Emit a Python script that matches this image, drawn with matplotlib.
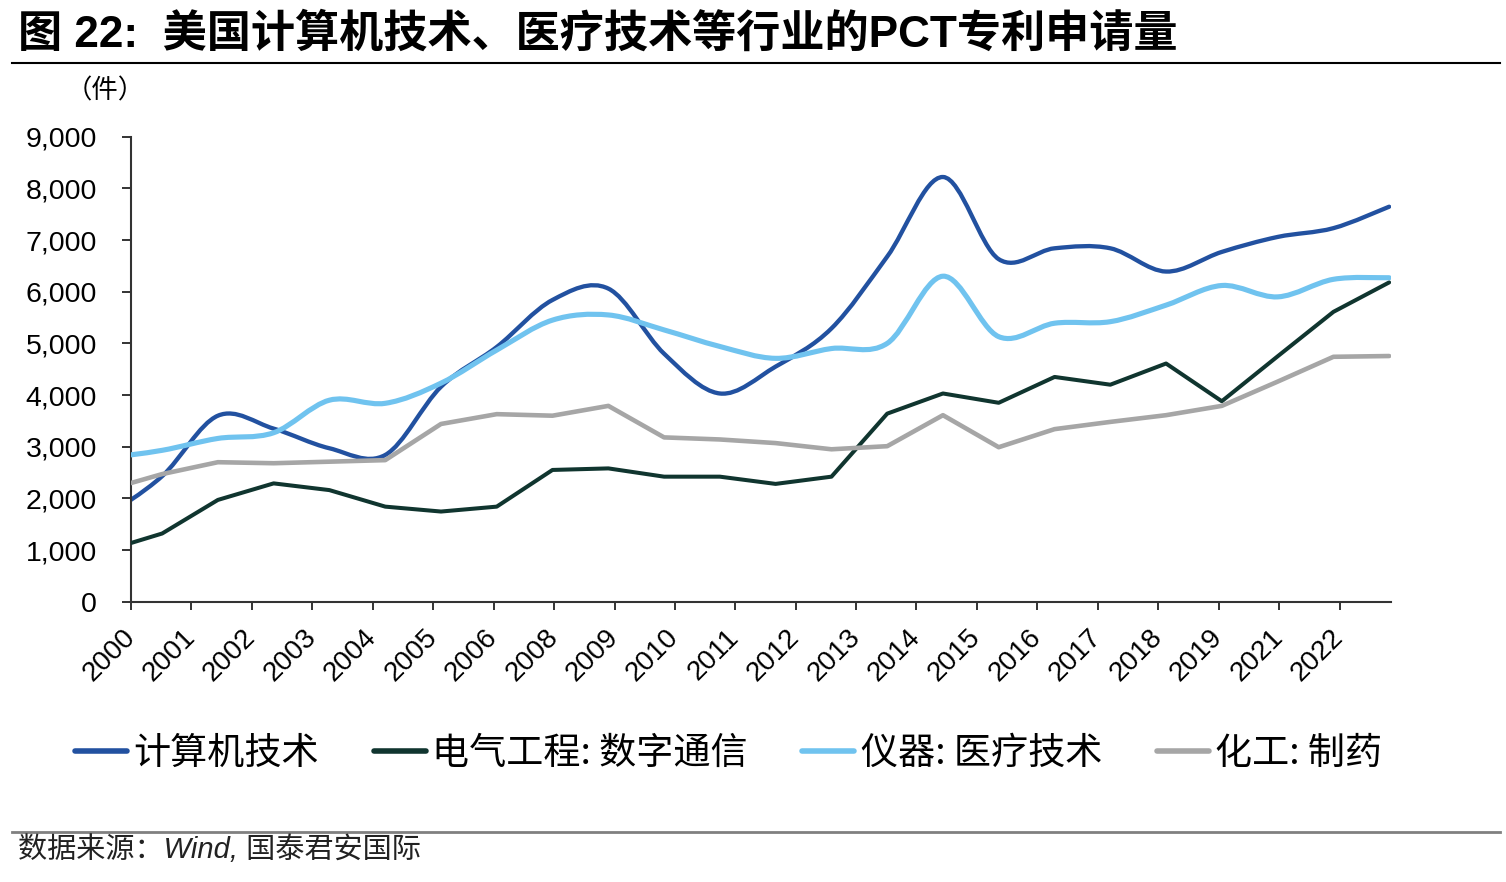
from datetime import datetime

import matplotlib
matplotlib.use("Agg")
import matplotlib.pyplot as plt
import matplotlib.dates as mdates
from matplotlib.lines import Line2D
from matplotlib.patches import PathPatch
from matplotlib.path import Path


# annual values, dated at year end (1999 point sits left of the axis and is clipped)
years = list(range(1999, 2023))
computer_tech = [1650, 2430, 3600, 3350, 2970, 2840, 4160, 4930, 5840, 6060, 4800, 4030,
                 4550, 5290, 6680, 8220, 6630, 6840, 6840, 6390, 6770, 7060, 7230, 7645]
digital_comm = [990, 1320, 1970, 2290, 2160, 1840, 1745, 1840, 2550, 2580, 2420, 2420,
                2280, 2420, 3640, 4030, 3850, 4350, 4200, 4610, 3880, 4750, 5610, 6180]
medical_tech = [2780, 2930, 3160, 3270, 3900, 3840, 4230, 4870, 5450, 5550, 5260, 4940,
                4710, 4900, 5000, 6300, 5130, 5390, 5420, 5740, 6120, 5900, 6240, 6270]
pharma = [2160, 2470, 2700, 2680, 2710, 2740, 3440, 3630, 3600, 3790, 3180, 3140,
          3070, 2950, 3010, 3610, 2990, 3340, 3480, 3610, 3790, 4260, 4740, 4755]

series_names = ["计算机技术", "电气工程: 数字通信", "仪器: 医疗技术", "化工: 制药"]
series_colors = ["#2251A0", "#10352F", "#70C3EF", "#A6A6A6"]
series_widths = [3.1, 2.9, 3.7, 3.3]
series_smooth = [True, False, True, False]

# date axis with a 13-month major unit, so some years never get a label
tick_labels = ["2000", "2001", "2002", "2003", "2004", "2005", "2006", "2008", "2009", "2010",
               "2011", "2012", "2013", "2014", "2015", "2016", "2017", "2018", "2019", "2021", "2022"]
y_ticks = [0, 1000, 2000, 3000, 4000, 5000, 6000, 7000, 8000, 9000]

CJK = ["Noto Sans CJK SC", "DejaVu Sans"]
LATIN_CJK = ["Liberation Sans", "Noto Sans CJK SC"]


def add_months(d: datetime, n: int) -> datetime:
    m = d.month - 1 + n
    return datetime(d.year + m // 12, m % 12 + 1, d.day)


def smooth_path(xs, ys) -> Path:
    """Bezier path through the points, like a spreadsheet 'smoothed line'."""
    verts = [(xs[0], ys[0])]
    codes = [Path.MOVETO]
    n = len(xs)
    for i in range(n - 1):
        xp, yp = (xs[i - 1], ys[i - 1]) if i > 0 else (xs[i], ys[i])
        xn, yn = (xs[i + 2], ys[i + 2]) if i + 2 < n else (xs[i + 1], ys[i + 1])
        c1 = (xs[i] + (xs[i + 1] - xp) / 6, ys[i] + (ys[i + 1] - yp) / 6)
        c2 = (xs[i + 1] - (xn - xs[i]) / 6, ys[i + 1] - (yn - ys[i]) / 6)
        verts += [c1, c2, (xs[i + 1], ys[i + 1])]
        codes += [Path.CURVE4] * 3
    return Path(verts, codes)


x_dates = [mdates.date2num(datetime(y, 12, 31)) for y in years]
axis_start = datetime(2000, 6, 10)
axis_end = datetime(2023, 1, 12)
tick_pos = [mdates.date2num(add_months(axis_start, 13 * k)) for k in range(len(tick_labels))]

fig = plt.figure(figsize=(15.06, 8.82), dpi=100)
ax = fig.add_axes([131 / 1506, 1 - 601.7 / 882, 1260 / 1506, 465 / 882])

all_values = [computer_tech, digital_comm, medical_tech, pharma]
handles = []
for k, (vals, name, color, lw, smooth) in enumerate(
        zip(all_values, series_names, series_colors, series_widths, series_smooth)):
    if smooth:
        patch = PathPatch(smooth_path(x_dates, vals), fill=False, edgecolor=color,
                          linewidth=lw, capstyle="round", joinstyle="round", zorder=2 + k)
        ax.add_patch(patch)
    else:
        ax.plot(x_dates, vals, color=color, linewidth=lw, solid_joinstyle="round",
                solid_capstyle="round", zorder=2 + k)
    handles.append(Line2D([], [], color=color, linewidth=4, solid_capstyle="round", label=name))

ax.set_xlim(mdates.date2num(axis_start), mdates.date2num(axis_end))
ax.set_ylim(0, 9000)

for side in ["top", "right"]:
    ax.spines[side].set_visible(False)
for side in ["left", "bottom"]:
    ax.spines[side].set_color("#333333")
    ax.spines[side].set_linewidth(1.5)

ax.set_yticks(y_ticks)
ax.set_yticklabels([f"{v:,}" for v in y_ticks], family="Liberation Sans", fontsize=20.5)
ax.tick_params(axis="y", length=6.5, width=1.4, color="#333333", pad=18)

ax.set_xticks(tick_pos)
ax.set_xticklabels(tick_labels, family="Liberation Sans", fontsize=20,
                   rotation=45, ha="right", va="center", rotation_mode="anchor")
ax.tick_params(axis="x", length=6, width=1.4, color="#333333", pad=17)

fig.legend(handles=handles, loc="center left", bbox_to_anchor=(75 / 1506, 1 - 753 / 882),
           ncol=4, frameon=False, prop={"family": CJK, "size": 26.7},
           handlelength=1.4, handletextpad=0.17, columnspacing=1.48,
           borderpad=0, borderaxespad=0)

fig.text(18 / 1506, 1 - 34 / 882, "图 22:  美国计算机技术、医疗技术等行业的PCT专利申请量",
         family=LATIN_CJK, fontsize=31.8, fontweight="bold", ha="left", va="center")
fig.add_artist(Line2D([12 / 1506, 1500 / 1506], [1 - 63 / 882, 1 - 63 / 882],
                      color="black", linewidth=1.5))
fig.text(66 / 1506, 1 - 91 / 882, "（件）", family=CJK, fontsize=19, ha="left", va="center")

fig.add_artist(Line2D([12 / 1506, 1500 / 1506], [1 - 831.5 / 882, 1 - 831.5 / 882],
                      color="#808080", linewidth=2))
fig.text(18 / 1506, 1 - 850 / 882, "数据来源：Wind, 国泰君安国际", family=LATIN_CJK,
         fontsize=21, style="italic", ha="left", va="center", color="#222222")

fig.savefig("out.png", dpi=100)
plt.close(fig)
